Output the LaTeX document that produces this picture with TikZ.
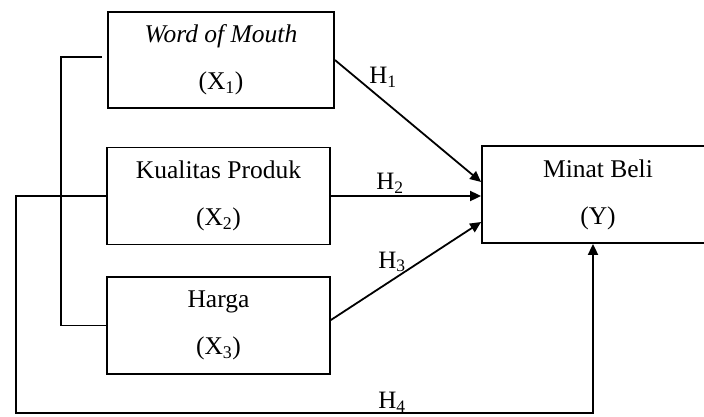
\documentclass[tikz,border=0pt]{standalone}
\usepackage{fontspec}
\setmainfont{Liberation Serif}
\usetikzlibrary{arrows.meta,calc}
\begin{document}
\begin{tikzpicture}[x=1pt,y=-1pt,
  box/.style={draw,line width=1.8pt,inner sep=0pt,align=center,
    font=\fontsize{25.5}{47}\selectfont},
  lbl/.style={inner sep=0pt,font=\fontsize{25}{28}\selectfont},
  conn/.style={line width=1.8pt},
  arr/.style={line width=1.8pt,-{Triangle[length=11pt,width=10pt]}}]
\useasboundingbox (0,0) rectangle (704,416);
\node[box,minimum width=226pt,minimum height=96pt] (X1) at (221,60)
  {\textit{Word of Mouth}\\(X\textsubscript{1})};
\node[box,minimum width=223pt,minimum height=97pt] (X2) at (218.5,196)
  {Kualitas Produk\\(X\textsubscript{2})};
\node[box,minimum width=223pt,minimum height=97pt] (X3) at (218.5,325.5)
  {Harga\\(X\textsubscript{3})};
\node[box,minimum width=232pt,minimum height=97pt] (Y) at (598,194.5)
  {Minat Beli\\(Y)};
\coordinate (lt) at (102,57);
\coordinate (lb) at (61,57);
\coordinate (ob) at (16,413);
\draw[conn] (lt) -- (lb) -- (lb |- X3.west) -- (X3.west);
\draw[arr] (X2.west) -| (ob) -| ([xshift=-5pt]Y.south);
\draw[arr] (X1.east) -- ([yshift=12.5pt]Y.west);
\draw[arr] (X2.east) -- ([yshift=-1.5pt]Y.west);
\draw[arr] ([yshift=5.5pt]X3.east) -- ([yshift=-27.5pt]Y.west);
\node[lbl] (h1) at (383,77) {H\textsubscript{1}};
\node[lbl] (h2) at (390,183) {H\textsubscript{2}};
\node[lbl] (h3) at (392,262) {H\textsubscript{3}};
\node[lbl] (h4) at (392,402) {H\textsubscript{4}};
\end{tikzpicture}
\end{document}
